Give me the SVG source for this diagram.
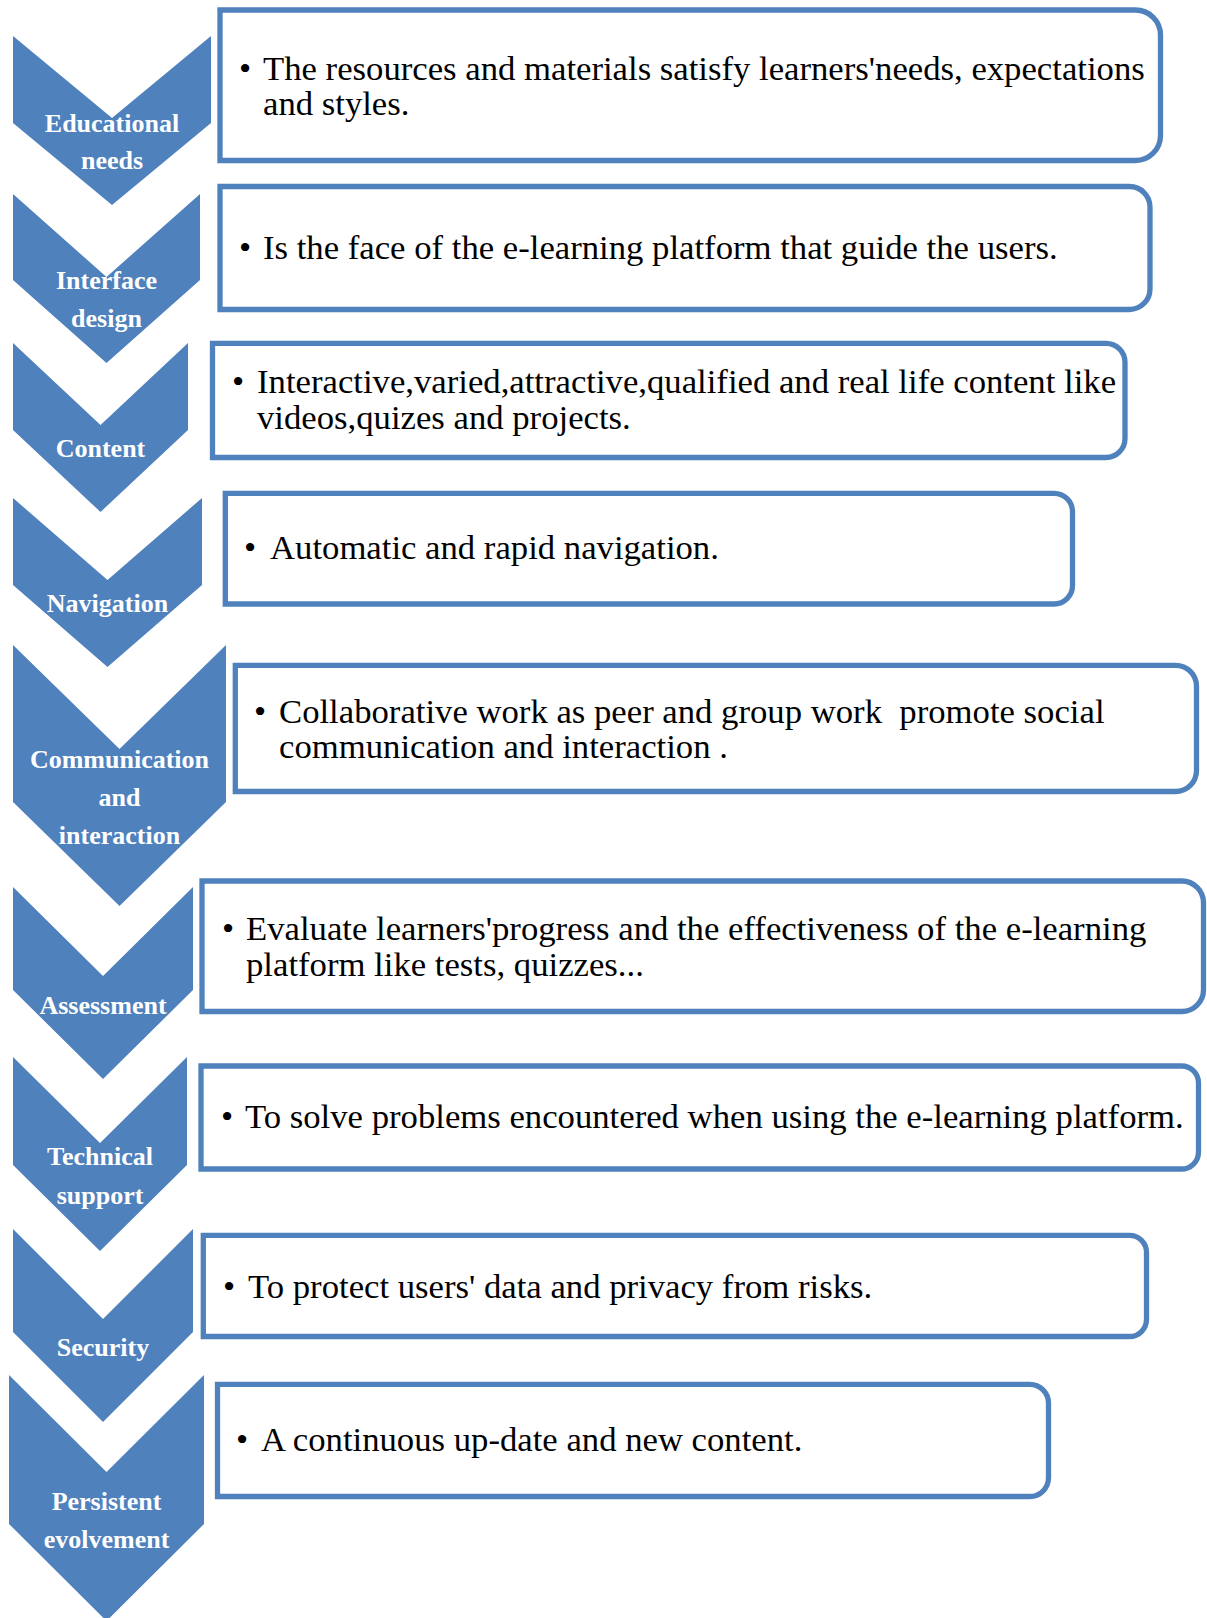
<svg xmlns="http://www.w3.org/2000/svg" width="1207" height="1618" viewBox="0 0 1207 1618">
<style>
.chev{fill:#4F81BD;}
.box{fill:#FFFFFF;stroke:#4F81BD;stroke-width:5.3;}
.lab{font-family:"Liberation Serif","Times New Roman",serif;font-weight:bold;font-size:26px;fill:#FFFFFF;text-anchor:middle;}
.txt{font-family:"Liberation Serif","Times New Roman",serif;font-size:34.7px;fill:#000000;white-space:pre;}
</style>
<rect width="1207" height="1618" fill="#FFFFFF"/>
<g id="connectors"></g>
<g id="step1">
<path class="chev" d="M13,36 L112,118 L211,36 L211,123 L112,205 L13,123 Z"/>
<text class="lab" x="112" y="132">Educational</text>
<text class="lab" x="112" y="169">needs</text>
<path class="box" d="M220,10 H1135.5 A25,25 0 0 1 1160.5,35 V135.5 A25,25 0 0 1 1135.5,160.5 H220 Z"/>
<text class="txt" x="239" y="80">•</text>
<text class="txt" x="263" y="80">The resources and materials satisfy learners'needs, expectations</text>
<text class="txt" x="263" y="115">and styles.</text>
</g>
<g id="step2">
<path class="chev" d="M13,194 L106.5,277 L200,194 L200,280 L106.5,363 L13,280 Z"/>
<text class="lab" x="106.5" y="289">Interface</text>
<text class="lab" x="106.5" y="327">design</text>
<path class="box" d="M220,186.5 H1129.5 A20.5,20.5 0 0 1 1150,207 V289 A20.5,20.5 0 0 1 1129.5,309.5 H220 Z"/>
<text class="txt" x="239" y="259">•</text>
<text class="txt" x="263" y="259">Is the face of the e-learning platform that guide the users.</text>
</g>
<g id="step3">
<path class="chev" d="M13,343 L100.5,425 L188,343 L188,430 L100.5,512 L13,430 Z"/>
<text class="lab" x="100.5" y="457">Content</text>
<path class="box" d="M212.5,343.3 H1106 A19,19 0 0 1 1125,362.3 V438.5 A19,19 0 0 1 1106,457.5 H212.5 Z"/>
<text class="txt" x="232" y="393">•</text>
<text class="txt" x="257" y="393">Interactive,varied,attractive,qualified and real life content like</text>
<text class="txt" x="257" y="429">videos,quizes and projects.</text>
</g>
<g id="step4">
<path class="chev" d="M13,498 L107.5,580 L202,498 L202,585 L107.5,667 L13,585 Z"/>
<text class="lab" x="107.5" y="612">Navigation</text>
<path class="box" d="M225.3,493.3 H1054 A18.5,18.5 0 0 1 1072.5,511.8 V585.5 A18.5,18.5 0 0 1 1054,604 H225.3 Z"/>
<text class="txt" x="244" y="559">•</text>
<text class="txt" x="270" y="559">Automatic and rapid navigation.</text>
</g>
<g id="step5">
<path class="chev" d="M13,645 L119.5,749 L226,645 L226,802 L119.5,906 L13,802 Z"/>
<text class="lab" x="119.5" y="768">Communication</text>
<text class="lab" x="119.5" y="806">and</text>
<text class="lab" x="119.5" y="844">interaction</text>
<path class="box" d="M235.3,665.3 H1175.5 A21,21 0 0 1 1196.5,686.3 V770.5 A21,21 0 0 1 1175.5,791.5 H235.3 Z"/>
<text class="txt" x="254" y="723">•</text>
<text class="txt" x="279" y="723">Collaborative work as peer and group work  promote social</text>
<text class="txt" x="279" y="758">communication and interaction .</text>
</g>
<g id="step6">
<path class="chev" d="M13,887 L103,976 L193,887 L193,990 L103,1079 L13,990 Z"/>
<text class="lab" x="103" y="1014">Assessment</text>
<path class="box" d="M202,881 H1181.8 A21.7,21.7 0 0 1 1203.5,902.7 V989.8 A21.7,21.7 0 0 1 1181.8,1011.5 H202 Z"/>
<text class="txt" x="222" y="940">•</text>
<text class="txt" x="246" y="940">Evaluate learners'progress and the effectiveness of the e-learning</text>
<text class="txt" x="246" y="976">platform like tests, quizzes...</text>
</g>
<g id="step7">
<path class="chev" d="M13,1057 L100,1143 L187,1057 L187,1165 L100,1251 L13,1165 Z"/>
<text class="lab" x="100" y="1165">Technical</text>
<text class="lab" x="100" y="1204">support</text>
<path class="box" d="M201,1066 H1181.5 A17,17 0 0 1 1198.5,1083 V1152 A17,17 0 0 1 1181.5,1169 H201 Z"/>
<text class="txt" x="221" y="1128">•</text>
<text class="txt" x="245" y="1128">To solve problems encountered when using the e-learning platform.</text>
</g>
<g id="step8">
<path class="chev" d="M13,1229 L103,1319 L193,1229 L193,1332 L103,1422 L13,1332 Z"/>
<text class="lab" x="103" y="1356">Security</text>
<path class="box" d="M203.3,1235.3 H1129.5 A17,17 0 0 1 1146.5,1252.3 V1319.5 A17,17 0 0 1 1129.5,1336.5 H203.3 Z"/>
<text class="txt" x="223" y="1298">•</text>
<text class="txt" x="248" y="1298">To protect users' data and privacy from risks.</text>
</g>
<g id="step9">
<path class="chev" d="M9,1375 L106.5,1472 L204,1375 L204,1524 L106.5,1621 L9,1524 Z"/>
<text class="lab" x="106.5" y="1510">Persistent</text>
<text class="lab" x="106.5" y="1548">evolvement</text>
<path class="box" d="M217.5,1384.3 H1029.8 A18.7,18.7 0 0 1 1048.5,1403 V1477.8 A18.7,18.7 0 0 1 1029.8,1496.5 H217.5 Z"/>
<text class="txt" x="236" y="1451">•</text>
<text class="txt" x="261" y="1451">A continuous up-date and new content.</text>
</g>
</svg>
